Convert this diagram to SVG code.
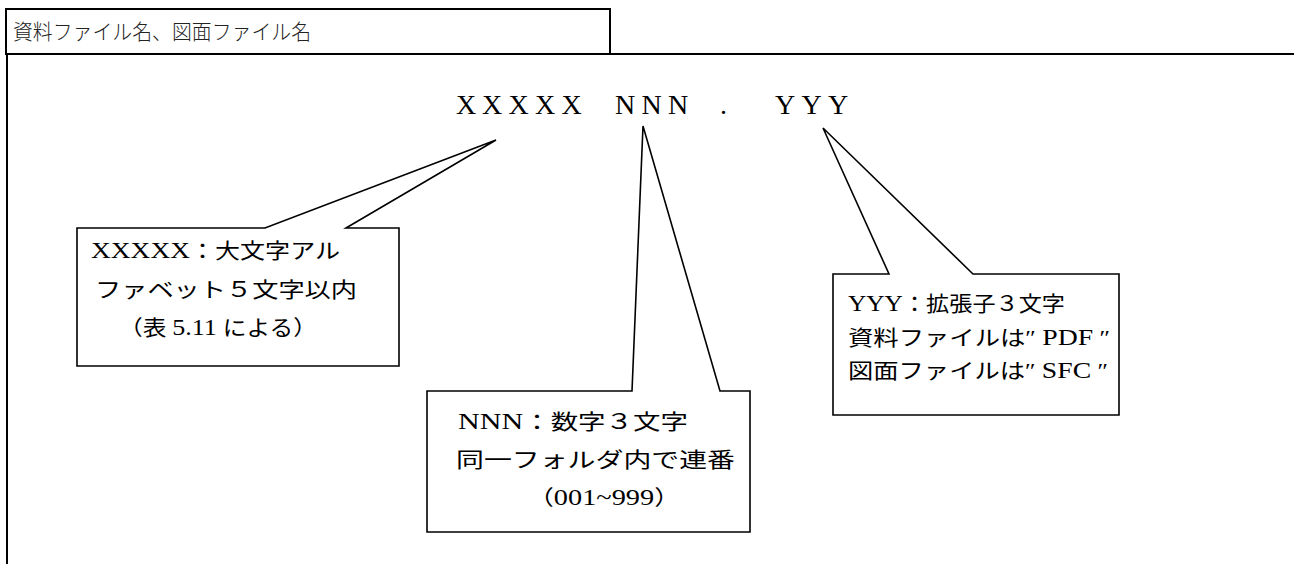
<svg xmlns="http://www.w3.org/2000/svg" width="1294" height="564" viewBox="0 0 1294 564">
<style>
.frame{fill:none;stroke:#000;stroke-width:2}
.callout{fill:#fff;stroke:#000;stroke-width:1.6;stroke-linejoin:miter}
.t{font-family:"Liberation Serif","Noto Sans CJK JP",serif;font-size:21px;fill:#000}
.l{font-size:23px}
.title{font-family:"Noto Sans CJK JP",sans-serif;font-size:21px;font-weight:300;fill:#222}
.main{font-family:"Liberation Serif","Noto Sans CJK JP",serif;font-size:28px;fill:#000}
</style>
<rect width="1294" height="564" fill="#fff"/>
<g id="frame">
<rect class="frame" x="6" y="9" width="604" height="45"/>
<line class="frame" x1="6" y1="54" x2="1294" y2="54"/>
<line class="frame" x1="7" y1="54" x2="7" y2="564"/>
<text class="title" x="13" y="39" textLength="298" lengthAdjust="spacingAndGlyphs">資料ファイル名、図面ファイル名</text>
</g>
<g id="filename">
<text class="main" y="114" x="456 482 508.5 535 561.5 615 641.5 668 720 775 801.5 828">XXXXXNNN.YYY</text>
</g>
<g id="callout-xxxxx">
<polygon class="callout" points="77,228 265,228 496,140 346,228 399,228 399,366 77,366"/>
<text class="t" x="91" y="258" textLength="249" lengthAdjust="spacingAndGlyphs"><tspan class="l">XXXXX</tspan>：大文字アル</text>
<text class="t" x="95" y="297" textLength="262" lengthAdjust="spacingAndGlyphs">ファベット５文字以内</text>
<text class="t" x="119" y="335" textLength="198" lengthAdjust="spacingAndGlyphs">（表 <tspan class="l">5.11</tspan> による）</text>
</g>
<g id="callout-nnn">
<polygon class="callout" points="427,391 632,391 643,126 720,391 750,391 750,532 427,532"/>
<text class="t" x="458" y="429" textLength="230" lengthAdjust="spacingAndGlyphs"><tspan class="l">NNN</tspan>：数字３文字</text>
<text class="t" x="456" y="467" textLength="279" lengthAdjust="spacingAndGlyphs">同一フォルダ内で連番</text>
<text class="t" x="528" y="505" textLength="152" lengthAdjust="spacingAndGlyphs">（<tspan class="l">001~999</tspan>）</text>
</g>
<g id="callout-yyy">
<polygon class="callout" points="833,274 889,274 823,128 973,274 1119,274 1119,415 833,415"/>
<text class="t" x="848" y="311" textLength="217" lengthAdjust="spacingAndGlyphs"><tspan class="l">YYY</tspan>：拡張子３文字</text>
<text class="t" x="848" y="345" textLength="262" lengthAdjust="spacingAndGlyphs">資料ファイルは″ <tspan class="l">PDF</tspan> ″</text>
<text class="t" x="848" y="378" textLength="260" lengthAdjust="spacingAndGlyphs">図面ファイルは″ <tspan class="l">SFC</tspan> ″</text>
</g>
</svg>
